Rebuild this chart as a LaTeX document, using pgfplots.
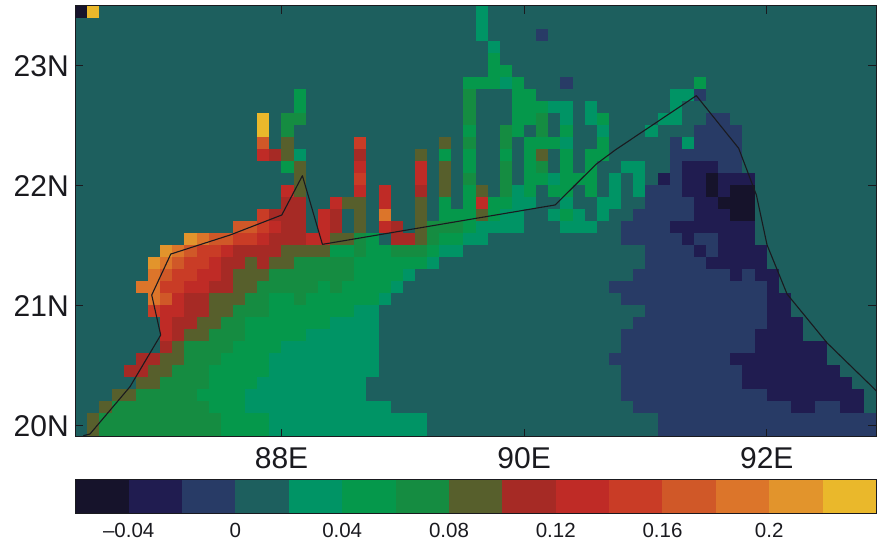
\documentclass[border=0pt]{standalone}
\usepackage{pgfplots}
\usepackage{pgfplotstable}
\usepackage{fontspec}
\setmainfont{Liberation Sans}
\pgfplotsset{compat=1.18}
\definecolor{c0}{RGB}{22,19,43}
\definecolor{c1}{RGB}{32,28,80}
\definecolor{c2}{RGB}{40,59,102}
\definecolor{c3}{RGB}{29,95,94}
\definecolor{c4}{RGB}{0,148,101}
\definecolor{c5}{RGB}{5,152,75}
\definecolor{c6}{RGB}{21,140,65}
\definecolor{c7}{RGB}{87,95,44}
\definecolor{c8}{RGB}{166,42,37}
\definecolor{c9}{RGB}{191,43,38}
\definecolor{c10}{RGB}{201,60,38}
\definecolor{c11}{RGB}{208,88,40}
\definecolor{c12}{RGB}{220,117,42}
\definecolor{c13}{RGB}{226,148,44}
\definecolor{c14}{RGB}{234,184,43}
\definecolor{ink}{RGB}{26,26,31}
\pgfplotstableread[header=false]{
0 14 3 3 3 3 3 3 3 3  3 3 3 3 3 3 3 3 3 3  3 3 3 3 3 3 3 3 3 3  3 3 3 4 3 3 3 3 3 3  3 3 3 3 3 3 3 3 3 3  3 3 3 3 3 3 3 3 3 3  3 3 3 3 3 3
3 3 3 3 3 3 3 3 3 3  3 3 3 3 3 3 3 3 3 3  3 3 3 3 3 3 3 3 3 3  3 3 3 4 3 3 3 3 3 3  3 3 3 3 3 3 3 3 3 3  3 3 3 3 3 3 3 3 3 3  3 3 3 3 3 3
3 3 3 3 3 3 3 3 3 3  3 3 3 3 3 3 3 3 3 3  3 3 3 3 3 3 3 3 3 3  3 3 3 4 3 3 3 3 2 3  3 3 3 3 3 3 3 3 3 3  3 3 3 3 3 3 3 3 3 3  3 3 3 3 3 3
3 3 3 3 3 3 3 3 3 3  3 3 3 3 3 3 3 3 3 3  3 3 3 3 3 3 3 3 3 3  3 3 3 3 4 3 3 3 3 3  3 3 3 3 3 3 3 3 3 3  3 3 3 3 3 3 3 3 3 3  3 3 3 3 3 3
3 3 3 3 3 3 3 3 3 3  3 3 3 3 3 3 3 3 3 3  3 3 3 3 3 3 3 3 3 3  3 3 3 3 5 3 3 3 3 3  3 3 3 3 3 3 3 3 3 3  3 3 3 3 3 3 3 3 3 3  3 3 3 3 3 3
3 3 3 3 3 3 3 3 3 3  3 3 3 3 3 3 3 3 3 3  3 3 3 3 3 3 3 3 3 3  3 3 3 3 5 5 3 3 3 3  3 3 3 3 3 3 3 3 3 3  3 3 3 3 3 3 3 3 3 3  3 3 3 3 3 3
3 3 3 3 3 3 3 3 3 3  3 3 3 3 3 3 3 3 3 3  3 3 3 3 3 3 3 3 3 3  3 3 5 5 5 4 5 3 3 3  2 3 3 3 3 3 3 3 3 3  3 5 3 3 3 3 3 3 3 3  3 3 3 3 3 3
3 3 3 3 3 3 3 3 3 3  3 3 3 3 3 3 3 3 5 3  3 3 3 3 3 3 3 3 3 3  3 3 6 3 3 3 5 5 3 3  3 3 3 3 3 3 3 3 3 4  4 2 3 3 3 3 3 3 3 3  3 3 3 3 3 3
3 3 3 3 3 3 3 3 3 3  3 3 3 3 3 3 3 3 5 3  3 3 3 3 3 3 3 3 3 3  3 3 6 3 3 3 5 5 5 4  4 3 4 3 3 3 3 3 3 4  3 3 3 3 3 3 3 3 3 3  3 3 3 3 3 3
3 3 3 3 3 3 3 3 3 3  3 3 3 3 3 14 3 6 6 3  3 3 3 3 3 3 3 3 3 3  3 3 6 3 3 3 5 5 6 3  4 3 4 5 3 3 3 3 4 4  3 3 2 2 3 3 3 3 3 3  3 3 3 3 3 3
3 3 3 3 3 3 3 3 3 3  3 3 3 3 3 14 3 6 3 3  3 3 3 3 3 3 3 3 3 3  3 3 5 3 3 6 5 3 6 3  5 3 3 4 3 3 3 4 3 3  3 2 2 2 2 3 3 3 3 3  3 3 3 3 3 3
3 3 3 3 3 3 3 3 3 3  3 3 3 3 3 11 3 7 3 3  3 3 3 10 3 3 3 3 3 3  7 3 6 3 3 6 3 5 5 5  4 3 3 5 3 3 3 3 3 2  4 2 2 2 2 3 3 3 3 3  3 3 3 3 3 3
3 3 3 3 3 3 3 3 3 3  3 3 3 3 3 9 8 7 4 3  3 3 3 8 3 3 3 3 7 3  5 3 5 3 3 5 3 5 7 3  5 3 5 5 3 3 3 3 3 2  2 2 2 2 2 3 3 3 3 3  3 3 3 3 3 3
3 3 3 3 3 3 3 3 3 3  3 3 3 3 3 3 3 5 7 3  3 3 3 9 3 3 3 3 9 3  7 3 5 3 3 6 3 5 6 3  5 3 5 3 3 4 4 3 3 2  1 1 1 2 2 3 3 3 3 3  3 3 3 3 3 3
3 3 3 3 3 3 3 3 3 3  3 3 3 3 3 3 3 3 7 3  3 3 3 10 3 3 3 3 9 3  7 3 6 3 3 6 3 5 5 4  5 5 5 3 4 3 4 3 1 2  1 1 0 1 1 1 3 3 3 3  3 3 3 3 3 3
3 3 3 3 3 3 3 3 3 3  3 3 3 3 3 3 3 9 7 3  3 3 3 9 3 9 3 3 8 3  7 3 5 7 3 6 4 5 3 5  5 3 5 3 4 3 4 2 2 2  1 1 0 1 0 0 3 3 3 3  3 3 3 3 3 3
3 3 3 3 3 3 3 3 3 3  3 3 3 3 3 3 3 8 8 3  3 9 7 7 3 9 3 3 7 3  5 3 5 9 5 5 4 4 3 3  4 3 3 4 4 3 3 2 2 2  2 1 1 0 0 0 3 3 3 3  3 3 3 3 3 3
3 3 3 3 3 3 3 3 3 3  3 3 3 3 3 10 8 8 8 3  9 8 3 7 3 12 3 3 7 3  5 5 5 7 5 4 4 3 3 4  5 4 3 4 3 3 2 2 2 2  2 1 1 1 0 0 3 3 3 3  3 3 3 3 3 3
3 3 3 3 3 3 3 3 3 3  3 3 3 11 11 10 9 8 8 3  9 8 3 7 3 9 8 3 7 6  6 6 5 4 4 4 4 3 3 3  4 4 4 3 3 2 2 2 2 1  1 1 1 1 1 1 3 3 3 3  3 3 3 3 3 3
3 3 3 3 3 3 3 3 3 13  12 11 11 10 10 9 8 8 8 9  9 7 7 6 5 3 8 8 7 6  5 5 4 4 3 3 3 3 3 3  3 3 3 3 3 2 2 2 2 2  1 2 2 1 1 1 3 3 3 3  3 3 3 3 3 3
3 3 3 3 3 3 3 13 12 11  10 10 9 8 8 8 8 7 7 7  7 5 5 6 5 5 6 6 6 5  4 4 3 3 3 3 3 3 3 3  3 3 3 3 3 3 3 2 2 2  2 1 2 1 1 1 1 3 3 3  3 3 3 3 3 3
3 3 3 3 3 3 13 12 11 10  10 9 8 8 7 8 7 7 6 6  6 6 6 5 5 5 5 5 5 4  3 3 3 3 3 3 3 3 3 3  3 3 3 3 3 3 3 2 2 2  2 2 1 1 1 1 1 3 3 3  3 3 3 3 3 3
3 3 3 3 3 3 12 11 10 10  9 9 8 7 7 7 6 6 6 6  6 6 6 5 5 5 5 4 3 3  3 3 3 3 3 3 3 3 3 3  3 3 3 3 3 3 2 2 2 2  2 2 2 2 1 2 1 1 3 3  3 3 3 3 3 3
3 3 3 3 3 12 12 10 10 9  9 8 8 7 7 6 6 6 6 6  5 6 5 5 5 5 4 3 3 3  3 3 3 3 3 3 3 3 3 3  3 3 3 3 2 2 2 2 2 2  2 2 2 2 2 2 2 1 3 3  3 3 3 3 3 3
3 3 3 3 3 3 12 11 9 8  8 7 7 7 6 6 5 5 6 5  5 5 5 5 5 4 3 3 3 3  3 3 3 3 3 3 3 3 3 3  3 3 3 3 3 2 2 2 2 2  2 2 2 2 2 2 2 1 1 3  3 3 3 3 3 3
3 3 3 3 3 3 10 9 9 8  8 7 7 6 6 6 5 5 5 5  5 5 5 4 4 3 3 3 3 3  3 3 3 3 3 3 3 3 3 3  3 3 3 3 3 3 3 2 2 2  2 2 2 2 2 2 2 1 1 3  3 3 3 3 3 3
3 3 3 3 3 3 3 9 8 8  7 7 6 6 5 5 5 5 5 5  5 4 4 4 4 3 3 3 3 3  3 3 3 3 3 3 3 3 3 3  3 3 3 3 3 3 2 2 2 2  2 2 2 2 2 2 2 1 1 1  3 3 3 3 3 3
3 3 3 3 3 3 3 9 8 7  7 6 6 6 5 5 5 5 5 4  4 4 4 4 4 3 3 3 3 3  3 3 3 3 3 3 3 3 3 3  3 3 3 3 3 2 2 2 2 2  2 2 2 2 2 2 1 1 1 1  3 3 3 3 3 3
3 3 3 3 3 3 3 8 7 6  6 6 6 5 5 5 5 4 4 4  4 4 4 4 4 3 3 3 3 3  3 3 3 3 3 3 3 3 3 3  3 3 3 3 3 2 2 2 2 2  2 2 2 2 2 2 1 1 1 1  1 1 3 3 3 3
3 3 3 3 3 8 8 7 7 6  6 6 5 5 5 5 4 4 4 4  4 4 4 4 4 3 3 3 3 3  3 3 3 3 3 3 3 3 3 3  3 3 3 3 2 2 2 2 2 2  2 2 2 2 1 1 1 1 1 1  1 1 3 3 3 3
3 3 3 3 8 8 7 7 6 6  6 5 5 5 5 5 4 4 4 4  4 4 4 4 4 3 3 3 3 3  3 3 3 3 3 3 3 3 3 3  3 3 3 3 3 2 2 2 2 2  2 2 2 2 2 1 1 1 1 1  1 1 1 3 3 3
3 3 3 3 3 7 7 6 6 6  6 5 5 5 5 4 4 4 4 4  4 4 4 4 3 3 3 3 3 3  3 3 3 3 3 3 3 3 3 3  3 3 3 3 3 2 2 2 2 2  2 2 2 2 2 1 1 1 1 1  1 1 1 1 3 3
3 3 3 7 7 6 6 6 6 6  5 5 5 5 4 4 4 4 4 4  4 4 4 4 3 3 3 3 3 3  3 3 3 3 3 3 3 3 3 3  3 3 3 3 3 2 2 2 2 2  2 2 2 2 2 2 2 1 1 1  1 1 1 1 1 3
3 3 7 6 6 6 6 6 6 6  6 5 5 5 4 4 4 4 4 4  4 4 4 4 4 4 3 3 3 3  3 3 3 3 3 3 3 3 3 3  3 3 3 3 3 3 2 2 2 2  2 2 2 2 2 2 2 2 2 1  1 2 2 1 1 3
3 7 6 6 6 6 6 6 6 6  6 6 5 5 5 5 4 4 4 4  4 4 4 4 4 4 4 4 4 3  3 3 3 3 3 3 3 3 3 3  3 3 3 3 3 3 3 3 2 2  2 2 2 2 2 2 2 2 2 2  2 2 2 2 2 2
3 7 6 6 6 6 6 6 6 6  6 6 5 5 5 5 4 4 4 4  4 4 4 4 4 4 4 4 4 3  3 3 3 3 3 3 3 3 3 3  3 3 3 3 3 3 3 3 2 2  2 2 2 2 2 2 2 2 2 2  2 2 2 2 2 2
}\grid
\begin{document}
\begin{tikzpicture}[x=1pt,y=1pt]
\useasboundingbox (0,0) rectangle (879,543);
\begin{axis}[
  at={(75.3pt,106pt)}, anchor=south west,
  width=800.7pt, height=431.3pt, scale only axis,
  xmin=86.3, xmax=92.9, ymin=19.9, ymax=23.5,
  axis on top, clip marker paths=true,
  axis line style={draw=ink,line width=1pt},
  major tick length=8pt,
  tick style={draw=ink,line width=1pt},
  tick align=inside,
  xtick={88,90,92}, xticklabels={88E,90E,92E},
  ytick={20,21,22,23}, yticklabels={20N,21N,22N,23N},
  tick label style={font=\fontsize{30}{34}\selectfont,text=ink},
  xticklabel style={yshift=-7pt},
  yticklabel style={xshift=-3pt,yshift=-1pt},
  axis background/.style={fill=c3},
  colormap={fifteen}{rgb255=(22,19,43) rgb255=(32,28,80) rgb255=(40,59,102) rgb255=(29,95,94) rgb255=(0,148,101) rgb255=(5,152,75) rgb255=(21,140,65) rgb255=(87,95,44) rgb255=(166,42,37) rgb255=(191,43,38) rgb255=(201,60,38) rgb255=(208,88,40) rgb255=(220,117,42) rgb255=(226,148,44) rgb255=(234,184,43)},
  point meta min=0, point meta max=14,
]
\pgfplotsinvokeforeach{0,...,65}{
  \addplot[scatter, only marks, mark=square*, mark size=6pt, point meta=explicit,
           scatter/use mapped color={draw=mapped color,fill=mapped color,line width=0.3pt}]
    table[x expr={86.35+0.1*#1}, y expr={23.45-0.1*\coordindex}, meta index=#1] {\grid};
}
\addplot[ink, line width=1.1pt, no marks, line join=round] coordinates {
 (86.366,19.911) (86.421,19.925) (86.751,20.320) (87.004,20.751) (86.930,21.085)
 (87.087,21.427) (87.576,21.586) (88.002,21.753) (88.172,22.081) (88.337,21.508)
 (90.256,21.837) (90.592,22.176) (90.751,22.296) (91.419,22.749) (91.768,22.310)
 (91.914,21.920) (92.002,21.503) (92.167,21.093) (92.497,20.685) (92.904,20.284)};
\end{axis}
\begin{axis}[
  at={(75.3pt,29pt)}, anchor=south west,
  width=800.7pt, height=34.5pt, scale only axis,
  xmin=-0.06, xmax=0.24, ymin=0, ymax=1,
  axis on top,
  axis line style={draw=ink,line width=1pt},
  ytick=\empty,
  xtick={-0.04,0,0.04,0.08,0.12,0.16,0.2},
  xticklabels={–0.04,0,0.04,0.08,0.12,0.16,0.2},
  major tick length=0pt,
  tick label style={font=\fontsize{20.5}{24}\selectfont,text=ink},
  xticklabel style={yshift=-6pt},
]
\addplot[fill=c0,draw=none] coordinates {(-0.06,1)(-0.04,1)} \closedcycle;
\addplot[fill=c1,draw=none] coordinates {(-0.04,1)(-0.02,1)} \closedcycle;
\addplot[fill=c2,draw=none] coordinates {(-0.02,1)(0,1)} \closedcycle;
\addplot[fill=c3,draw=none] coordinates {(0,1)(0.02,1)} \closedcycle;
\addplot[fill=c4,draw=none] coordinates {(0.02,1)(0.04,1)} \closedcycle;
\addplot[fill=c5,draw=none] coordinates {(0.04,1)(0.06,1)} \closedcycle;
\addplot[fill=c6,draw=none] coordinates {(0.06,1)(0.08,1)} \closedcycle;
\addplot[fill=c7,draw=none] coordinates {(0.08,1)(0.10,1)} \closedcycle;
\addplot[fill=c8,draw=none] coordinates {(0.10,1)(0.12,1)} \closedcycle;
\addplot[fill=c9,draw=none] coordinates {(0.12,1)(0.14,1)} \closedcycle;
\addplot[fill=c10,draw=none] coordinates {(0.14,1)(0.16,1)} \closedcycle;
\addplot[fill=c11,draw=none] coordinates {(0.16,1)(0.18,1)} \closedcycle;
\addplot[fill=c12,draw=none] coordinates {(0.18,1)(0.20,1)} \closedcycle;
\addplot[fill=c13,draw=none] coordinates {(0.20,1)(0.22,1)} \closedcycle;
\addplot[fill=c14,draw=none] coordinates {(0.22,1)(0.24,1)} \closedcycle;
\end{axis}
\end{tikzpicture}
\end{document}
